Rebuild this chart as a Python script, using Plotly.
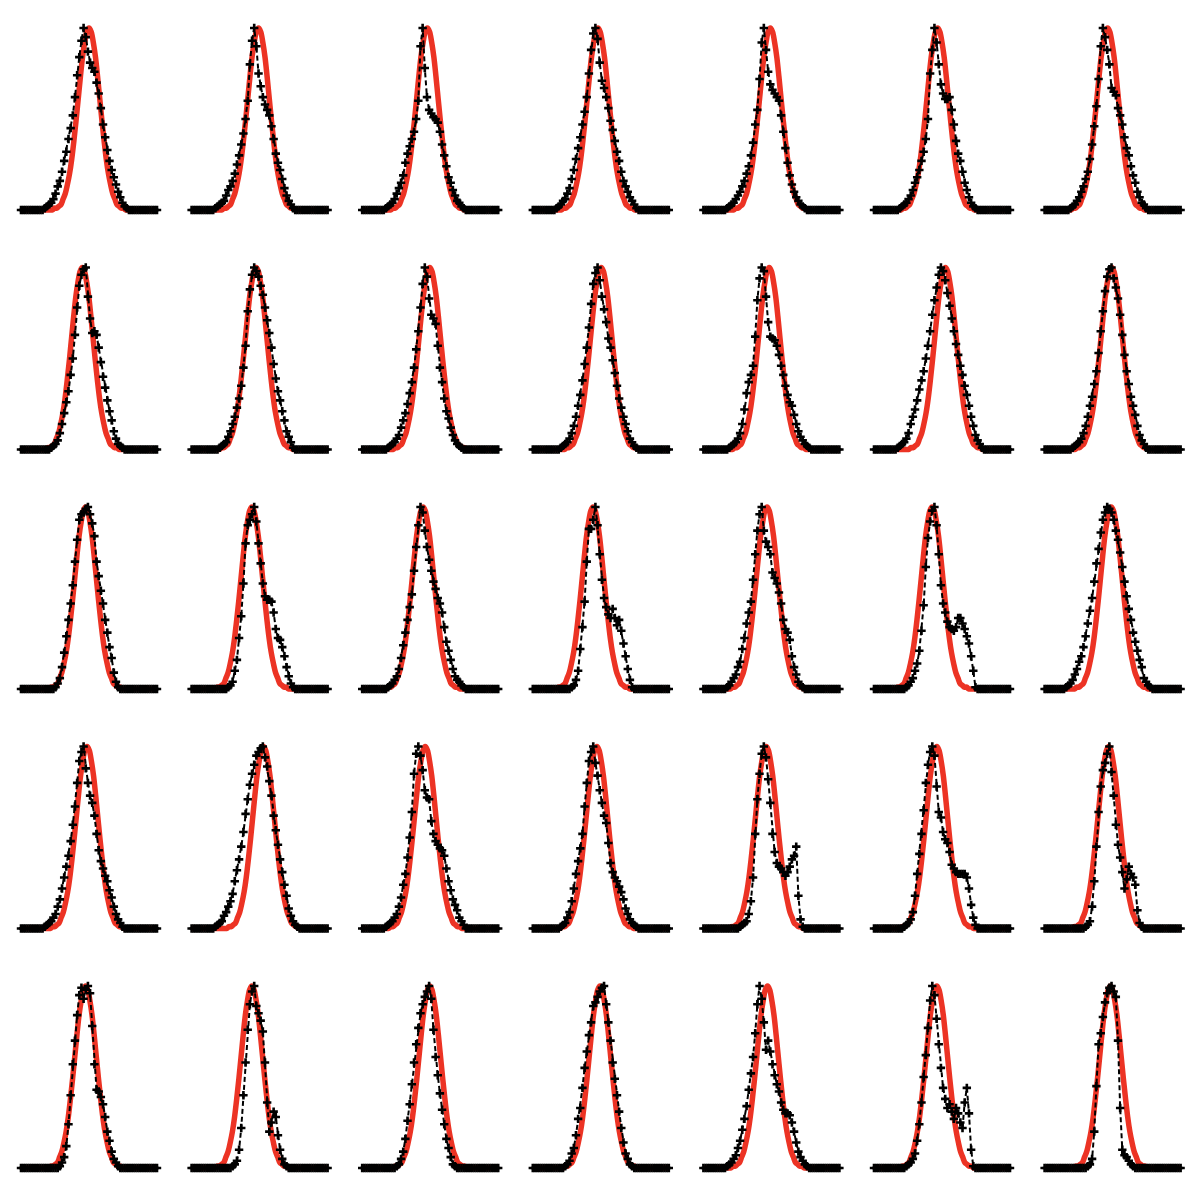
import plotly.graph_objects as go

N_POINTS = 64
ROWS = 5
COLS = 7

# red Gaussian fit: peak position (sample index) of each panel, row by row
RED_CENTRES = [31.5, 31.0, 30.2, 30.2, 31.0, 29.5, 29.2,
               28.4, 29.9, 31.3, 31.7, 30.5, 33.1, 31.1,
               29.9, 27.9, 28.2, 27.9, 29.5, 26.9, 30.9,
               30.6, 33.3, 29.2, 29.7, 29.1, 29.1, 29.7,
               29.9, 27.9, 31.3, 31.1, 29.7, 29.1, 30.5]

RED_OFFSETS = list(range(-18, 19))
RED_SHAPE = [0.0, 0.0, 0.01, 0.01, 0.02, 0.03, 0.06, 0.09, 0.14, 0.2, 0.28, 0.38,
             0.49, 0.61, 0.73, 0.84, 0.92, 0.98, 1.0, 0.98, 0.92, 0.84, 0.73, 0.61,
             0.49, 0.38, 0.28, 0.2, 0.14, 0.09, 0.06, 0.03, 0.02, 0.01, 0.01, 0.0, 0.0]

# measured profiles: first non-zero sample and the non-zero values
ROW1_START = [11, 11, 11, 11, 11, 12, 12]
ROW1 = [
    [.01, .02, .03, .04, .06, .09, .13, .16, .21, .27, .32, .39, .45, .52, .62, .74, .84, .93, 1.0, .95,
     .87, .81, .78, .76, .70, .64, .56, .47, .40, .33, .27, .22, .18, .14, .10, .07, .04, .02, .01],
    [.01, .02, .03, .04, .05, .08, .11, .13, .16, .2, .25, .3, .36, .42, .5, .6, .8, .93, 1.0, .9,
     .75, .68, .62, .58, .55, .52, .46, .39, .31, .26, .22, .17, .12, .08, .05, .03, .01],
    [.01, .02, .03, .04, .06, .09, .12, .15, .19, .26, .31, .35, .39, .43, .5, .6, .9, 1.0, .78, .62,
     .55, .53, .51, .5, .48, .43, .36, .3, .24, .18, .15, .11, .08, .05, .04, .02, .01],
    [.01, .02, .03, .05, .06, .09, .12, .17, .22, .28, .34, .4, .47, .54, .62, .75, .88, .97, 1.0, .94,
     .81, .71, .67, .62, .56, .49, .44, .38, .32, .27, .21, .16, .13, .1, .07, .05, .03, .01],
    [.01, .02, .03, .04, .06, .08, .1, .13, .16, .2, .24, .3, .37, .47, .55, .72, .92, 1.0, .88, .76,
     .69, .66, .64, .62, .6, .52, .43, .34, .26, .19, .14, .1, .07, .05, .03, .02, .01],
    [.01, .02, .03, .04, .06, .08, .11, .15, .18, .22, .27, .32, .39, .5, .75, .88, 1.0, .92, .8, .69,
     .64, .61, .61, .62, .55, .47, .38, .31, .27, .21, .15, .11, .07, .04, .02, .01],
    [.01, .02, .03, .05, .07, .1, .13, .17, .21, .28, .36, .46, .57, .72, .9, 1.0, .95, .88, .8, .67,
     .65, .63, .56, .52, .47, .4, .34, .3, .24, .19, .15, .1, .07, .04, .03, .01],
]

ROW2_START = [14, 13, 12, 13, 12, 11, 13]
ROW2 = [
    [.01, .02, .03, .05, .09, .14, .2, .26, .32, .41, .5, .63, .78, .9, .96, .99, 1.0, .84, .72, .64,
     .65, .63, .56, .48, .4, .34, .27, .21, .16, .1, .06, .03, .02, .01],
    [.01, .02, .03, .04, .07, .1, .14, .18, .23, .28, .35, .45, .57, .76, .88, .96, 1.0, .98, .95, .9,
     .85, .78, .71, .64, .56, .47, .39, .32, .27, .21, .16, .1, .07, .04, .01],
    [.01, .02, .03, .04, .06, .08, .12, .16, .2, .25, .31, .37, .45, .55, .65, .78, .91, 1.0, .95, .83,
     .74, .72, .69, .57, .45, .37, .28, .21, .17, .12, .08, .05, .03, .02, .01],
    [.01, .02, .03, .04, .06, .09, .13, .18, .24, .3, .38, .47, .56, .67, .8, .91, .97, 1.0, .93, .84,
     .77, .7, .61, .56, .49, .42, .35, .28, .23, .18, .14, .1, .06, .04, .02, .01],
    [.01, .02, .03, .04, .06, .09, .14, .22, .31, .37, .41, .46, .62, .82, .94, 1.0, .98, .84, .7, .62,
     .61, .6, .57, .52, .46, .41, .35, .3, .26, .24, .19, .14, .1, .07, .05, .03, .02, .01],
    [.01, .02, .03, .04, .06, .09, .14, .18, .22, .27, .33, .38, .43, .5, .57, .65, .74, .82, .89, .96,
     1.0, .98, .93, .86, .79, .72, .65, .58, .52, .46, .41, .35, .3, .24, .18, .13, .08, .05, .03, .01],
    [.01, .02, .03, .04, .06, .09, .13, .18, .24, .29, .36, .43, .53, .65, .76, .87, .95, .99, 1.0, .94,
     .89, .83, .74, .63, .52, .43, .36, .29, .24, .19, .13, .08, .05, .03, .01],
]

ROW3_START = [16, 17, 12, 18, 11, 15, 10]
ROW3 = [
    [.01, .03, .06, .12, .2, .29, .38, .47, .57, .7, .82, .93, .96, .97, .99, 1.0, .96, .91, .84, .7,
     .62, .54, .47, .38, .31, .23, .17, .09, .04, .01],
    [.01, .02, .04, .1, .16, .28, .4, .58, .8, .9, .93, .96, 1.0, .92, .8, .69, .58, .51, .49, .49,
     .48, .42, .33, .28, .27, .23, .18, .12, .07, .03, .01],
    [.01, .02, .03, .05, .07, .11, .17, .24, .31, .38, .45, .52, .65, .78, .9, 1.0, .97, .87, .78, .71,
     .65, .59, .55, .5, .47, .42, .34, .26, .21, .16, .11, .07, .05, .04, .02, .01],
    [.01, .02, .05, .1, .22, .34, .48, .7, .88, .88, .93, 1.0, .9, .74, .6, .5, .45, .41, .39, .44,
     .39, .35, .38, .32, .25, .18, .11, .05, .01],
    [.01, .02, .04, .06, .08, .12, .15, .22, .28, .36, .42, .48, .6, .74, .87, .96, 1.0, .87, .81, .78,
     .74, .64, .61, .58, .53, .47, .38, .33, .31, .27, .18, .12, .08, .04, .02, .01],
    [.01, .02, .04, .06, .1, .14, .21, .32, .46, .67, .83, .92, .98, 1.0, .9, .74, .57, .47, .42, .37,
     .34, .33, .32, .34, .39, .39, .36, .33, .29, .25, .18, .1, .01],
    [.01, .02, .03, .05, .08, .11, .15, .18, .23, .29, .36, .43, .5, .59, .69, .77, .86, .93, .97, 1.0,
     .99, .97, .93, .87, .82, .75, .67, .59, .51, .44, .38, .31, .26, .21, .16, .12, .06, .04, .02, .01],
]

ROW4_START = [11, 11, 11, 13, 17, 14, 19]
ROW4 = [
    [.01, .02, .03, .04, .06, .08, .12, .16, .22, .28, .34, .4, .48, .57, .67, .8, .92, .97, 1.0, .88,
     .8, .73, .69, .62, .52, .43, .37, .33, .29, .26, .21, .17, .12, .08, .05, .03, .01],
    [.01, .02, .03, .04, .07, .09, .12, .15, .19, .26, .32, .38, .45, .53, .63, .71, .79, .85, .9, .95,
     .97, .99, 1.0, .94, .89, .81, .73, .62, .54, .46, .38, .31, .24, .18, .11, .07, .04, .02, .01],
    [.01, .02, .03, .04, .06, .08, .12, .17, .24, .3, .39, .5, .64, .85, .96, 1.0, .95, .87, .76, .72,
     .71, .59, .52, .48, .46, .44, .43, .4, .33, .26, .21, .16, .13, .1, .06, .04, .02],
    [.01, .02, .03, .06, .09, .15, .22, .3, .37, .44, .52, .67, .8, .92, .97, 1.0, .91, .84, .76, .69,
     .62, .58, .47, .36, .31, .28, .26, .23, .2, .16, .11, .08, .05, .03, .02, .01],
    [.01, .02, .03, .04, .08, .15, .28, .52, .71, .85, .96, 1.0, .94, .82, .69, .52, .42, .36, .34, .33,
     .31, .29, .31, .34, .38, .4, .45, .18, .05, .01],
    [.01, .02, .03, .05, .09, .18, .3, .41, .52, .65, .8, .9, .97, 1.0, .95, .78, .64, .61, .53, .49,
     .47, .42, .35, .33, .31, .3, .3, .3, .3, .28, .22, .13, .06, .02],
    [.01, .02, .04, .12, .26, .45, .64, .78, .87, .91, .96, 1.0, .86, .73, .57, .46, .39, .31, .22, .27,
     .34, .3, .28, .24, .1, .03, .01],
]

ROW5_START = [18, 19, 16, 15, 11, 15, 20]
ROW5 = [
    [.01, .03, .06, .12, .24, .4, .57, .7, .84, .95, .99, .93, .98, 1.0, .96, .78, .57, .43, .42, .39,
     .35, .28, .2, .15, .09, .05, .03, .01],
    [.01, .02, .04, .1, .22, .4, .58, .76, .9, .97, 1.0, .89, .85, .81, .75, .58, .36, .2, .25, .31,
     .28, .18, .1, .05, .02, .01],
    [.01, .02, .05, .09, .16, .26, .35, .46, .58, .68, .77, .85, .9, .94, .97, 1.0, .93, .76, .61, .51,
     .41, .32, .24, .16, .11, .06, .02, .01],
    [.01, .02, .04, .08, .11, .18, .27, .33, .44, .55, .64, .73, .8, .89, .91, .94, .97, .99, 1.0, .9,
     .8, .7, .58, .49, .4, .31, .22, .14, .08, .05, .02, .01],
    [.01, .02, .03, .05, .07, .11, .15, .21, .27, .34, .43, .52, .61, .74, .9, 1.0, .93, .8, .65, .7,
     .64, .57, .51, .46, .42, .36, .32, .3, .3, .29, .25, .2, .14, .09, .06, .04, .02, .01],
    [.01, .02, .03, .05, .08, .15, .24, .36, .5, .62, .77, .92, 1.0, .95, .82, .68, .55, .44, .38, .33,
     .35, .31, .27, .33, .3, .25, .22, .36, .44, .3, .1, .01],
    [.01, .02, .05, .2, .45, .68, .74, .83, .91, .96, .99, 1.0, .97, .94, .7, .33, .1, .07, .06, .04,
     .02, .01],
]

STARTS = ROW1_START + ROW2_START + ROW3_START + ROW4_START + ROW5_START
PROFILES = ROW1 + ROW2 + ROW3 + ROW4 + ROW5

# page geometry (pixels in the 1200x1189 window); the page body adds an 8px margin
PAGE_MARGIN = 8
W, H = 1200 - 2 * PAGE_MARGIN, 1189 - 2 * PAGE_MARGIN
PANEL_W = 142
COL_LEFT = [18 + 170.6 * c - PAGE_MARGIN for c in range(COLS)]
ROW_BASE = [210 + 239.5 * r - PAGE_MARGIN for r in range(ROWS)]
PEAK_H = 182
Y_LO, Y_HI = -0.03, 1.05

RED = '#ec3324'

fig = go.Figure()
layout = dict(width=W, height=H, margin=dict(l=0, r=0, t=0, b=0),
              paper_bgcolor='white', plot_bgcolor='white', showlegend=False)

xs = list(range(N_POINTS))
for i in range(ROWS * COLS):
    r, c = divmod(i, COLS)
    n = i + 1
    xa = 'x' if n == 1 else f'x{n}'
    ya = 'y' if n == 1 else f'y{n}'

    # fit
    centre = RED_CENTRES[i]
    red_x = [0] + [centre + o for o in RED_OFFSETS] + [N_POINTS - 1]
    red_y = [0.0] + RED_SHAPE + [0.0]
    fig.add_trace(go.Scatter(x=red_x, y=red_y, mode='lines', xaxis=xa, yaxis=ya,
                             line=dict(color=RED, width=5.5, shape='spline'),
                             hoverinfo='skip', cliponaxis=False))

    # data
    vals = PROFILES[i]
    start = STARTS[i]
    ys = [0.0] * start + vals + [0.0] * (N_POINTS - start - len(vals))
    fig.add_trace(go.Scatter(x=xs, y=ys, mode='lines+markers', xaxis=xa, yaxis=ya,
                             line=dict(color='black', width=2, dash='5px,3px'),
                             marker=dict(symbol='cross-thin', size=6,
                                         line=dict(color='black', width=2.6)),
                             cliponaxis=False))

    left = COL_LEFT[c]
    base = ROW_BASE[r]
    top_px = base - PEAK_H * Y_HI
    bot_px = base - PEAK_H * Y_LO
    layout['xaxis' if n == 1 else f'xaxis{n}'] = dict(
        domain=[left / W, (left + PANEL_W) / W], range=[-1.39, 64.39],
        visible=False, anchor=ya)
    layout['yaxis' if n == 1 else f'yaxis{n}'] = dict(
        domain=[max(0.0, 1 - bot_px / H), min(1.0, 1 - top_px / H)], range=[Y_LO, Y_HI],
        visible=False, anchor=xa)

fig.update_layout(**layout)
fig.write_html("out.html")
